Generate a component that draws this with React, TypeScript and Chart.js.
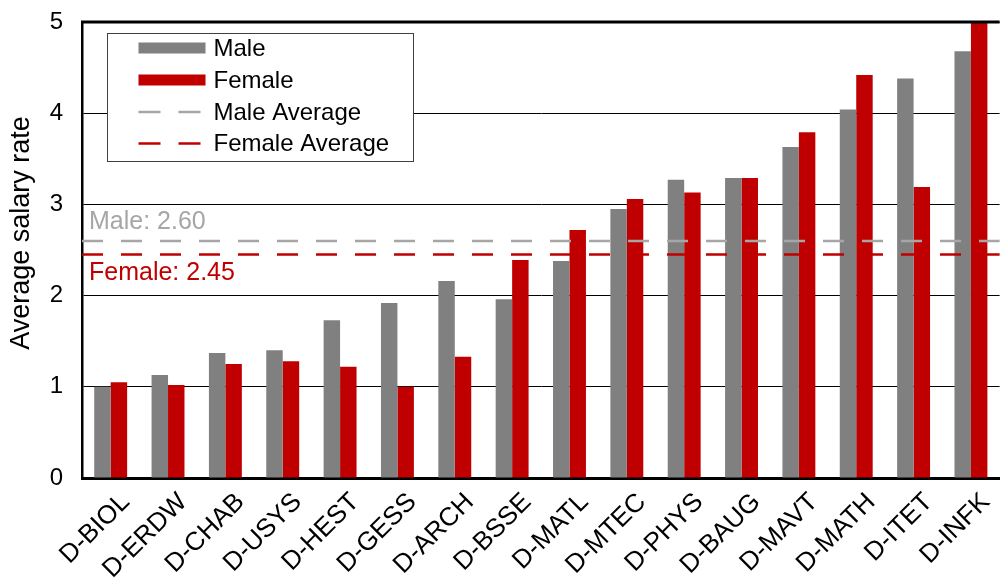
import React, { useEffect, useRef } from "react";
import { Chart, registerables } from "chart.js";

Chart.register(...registerables);

const categories = [
  "D-BIOL", "D-ERDW", "D-CHAB", "D-USYS", "D-HEST", "D-GESS", "D-ARCH", "D-BSSE",
  "D-MATL", "D-MTEC", "D-PHYS", "D-BAUG", "D-MAVT", "D-MATH", "D-ITET", "D-INFK",
];
const maleValues = [1.0, 1.13, 1.37, 1.4, 1.73, 1.92, 2.16, 1.96, 2.38, 2.95, 3.27, 3.29, 3.63, 4.04, 4.38, 4.68];
const femaleValues = [1.05, 1.02, 1.25, 1.28, 1.22, 1.0, 1.33, 2.39, 2.72, 3.06, 3.13, 3.29, 3.79, 4.42, 3.19, 5.0];
const maleAverage = 2.6;
const femaleAverage = 2.45;
const yTicks = [0, 1, 2, 3, 4, 5];
const legendLabels = ["Male", "Female", "Male Average", "Female Average"];
const yAxisTitle = "Average salary rate";

const FONT = "'Liberation Sans', Arial, sans-serif";
const GRAY = "#808080";
const RED = "#C00000";
const AVG_GRAY = "#A6A6A6";

const overlayPlugin = {
  id: "overlay",
  afterDatasetsDraw(chart: any) {
    const { ctx, chartArea, scales } = chart;
    const y = scales.y;
    const lines = [
      { v: maleAverage, color: AVG_GRAY, label: `Male: ${maleAverage.toFixed(2)}`, dy: -19 },
      { v: femaleAverage, color: RED, label: `Female: ${femaleAverage.toFixed(2)}`, dy: 19 },
    ];
    ctx.save();
    for (const l of lines) {
      const py = y.getPixelForValue(l.v);
      ctx.beginPath();
      ctx.setLineDash([21, 18]);
      ctx.lineWidth = 2.5;
      ctx.strokeStyle = l.color;
      ctx.moveTo(chartArea.left, py);
      ctx.lineTo(chartArea.right, py);
      ctx.stroke();
      ctx.setLineDash([]);
      ctx.fillStyle = l.color;
      ctx.font = `25px ${FONT}`;
      ctx.textAlign = "left";
      ctx.textBaseline = "middle";
      ctx.fillText(l.label, chartArea.left + 7, py + l.dy);
    }
    ctx.restore();
  },
  afterDraw(chart: any) {
    const { ctx, chartArea } = chart;
    ctx.save();
    // top border
    ctx.beginPath();
    ctx.lineWidth = 3;
    ctx.strokeStyle = "#000";
    ctx.moveTo(chartArea.left - 1, chartArea.top);
    ctx.lineTo(chartArea.right, chartArea.top);
    ctx.stroke();

    // legend
    const bx = chartArea.left + 25.5;
    const by = chartArea.top + 11.5;
    const bw = 306;
    const bh = 128;
    ctx.fillStyle = "#fff";
    ctx.fillRect(bx, by, bw, bh);
    ctx.lineWidth = 1;
    ctx.strokeStyle = "#404040";
    ctx.strokeRect(bx, by, bw, bh);
    const symX = bx + 31;
    const symW = 67;
    const textX = bx + 106;
    const rows = [14.5, 46.5, 78.5, 110];
    ctx.font = `24px ${FONT}`;
    ctx.textAlign = "left";
    ctx.textBaseline = "middle";
    legendLabels.forEach((lab, i) => {
      const cy = by + rows[i];
      if (i < 2) {
        ctx.fillStyle = i === 0 ? GRAY : RED;
        ctx.fillRect(symX, cy - 5.5, symW, 11);
      } else {
        ctx.beginPath();
        ctx.setLineDash([22, 18]);
        ctx.lineWidth = 2.5;
        ctx.strokeStyle = i === 2 ? AVG_GRAY : RED;
        ctx.moveTo(symX, cy);
        ctx.lineTo(symX + 62, cy);
        ctx.stroke();
        ctx.setLineDash([]);
      }
      ctx.fillStyle = "#000";
      ctx.fillText(lab, textX, cy + 1);
    });

    // y axis title
    ctx.translate(22, 233);
    ctx.rotate(-Math.PI / 2);
    ctx.font = `27px ${FONT}`;
    ctx.textAlign = "center";
    ctx.textBaseline = "middle";
    ctx.fillStyle = "#000";
    ctx.fillText(yAxisTitle, 0, 0);
    ctx.restore();
  },
};

export default function App() {
  const ref = useRef<HTMLCanvasElement>(null);
  useEffect(() => {
    document.body.style.margin = "0";
    const canvas = ref.current!;
    const chart = new Chart(canvas, {
      type: "bar",
      data: {
        labels: categories,
        datasets: [
          { label: "Male", data: maleValues, backgroundColor: GRAY, borderWidth: 0 },
          { label: "Female", data: femaleValues, backgroundColor: RED, borderWidth: 0 },
        ],
      },
      options: {
        animation: false,
        responsive: false,
        maintainAspectRatio: false,
        layout: { padding: { top: 22, left: 0, right: 0, bottom: 0 } },
        datasets: { bar: { categoryPercentage: 0.574, barPercentage: 1 } },
        plugins: { legend: { display: false }, tooltip: { enabled: false } },
        scales: {
          x: {
            offset: true,
            grid: { display: false, drawTicks: false },
            border: { display: true, color: "#000", width: 3 },
            ticks: {
              color: "#000",
              font: { family: FONT, size: 26 },
              maxRotation: 45,
              minRotation: 45,
              autoSkip: false,
              padding: 9,
              labelOffset: 15,
            },
            afterFit: (s: any) => { s.height = 105; },
          },
          y: {
            min: 0,
            max: 5,
            afterBuildTicks: (s: any) => { s.ticks = yTicks.map((v) => ({ value: v })); },
            grid: {
              color: "#000",
              lineWidth: 1,
              drawTicks: false,
            },
            border: { display: true, color: "#000", width: 2.5 },
            ticks: {
              color: "#000",
              font: { family: FONT, size: 24 },
              padding: 19,
            },
            afterFit: (s: any) => { s.width = 82; s.paddingTop = 0; s.paddingBottom = 0; },
          },
        },
      },
      plugins: [overlayPlugin],
    });
    return () => chart.destroy();
  }, []);
  return <canvas ref={ref} width={1002} height={583} style={{ display: "block" }} />;
}
